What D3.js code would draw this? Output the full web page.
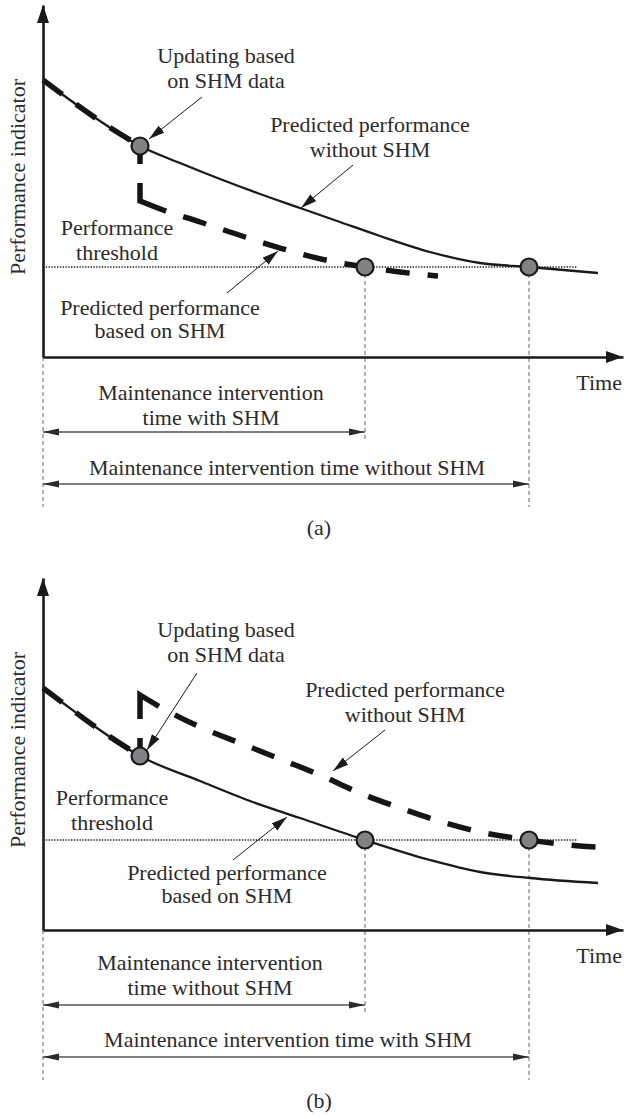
<!DOCTYPE html>
<html>
<head>
<meta charset="utf-8">
<script src="https://cdn.jsdelivr.net/npm/d3@7"></script>
<style>
  html, body { margin: 0; padding: 0; background: #fff; }
  svg { display: block; }
  text { font-family: "Liberation Serif", "Times New Roman", serif; font-size: 22px; fill: #2b2b2b; }
</style>
</head>
<body>
<svg id="chart" width="624" height="1119"></svg>
<script>
// ---- values (time and performance in arbitrary units) ----
const updateTime = 9.7;
const threshold = 9.0;

// (a) updating lowers the prediction
const aBaseT = [0, 2.7, 5.7, 9.7, 13.7, 17.7, 21.7, 25.7, 29.7, 33.7, 38.7, 43.7, 48.6, 55.5];
const aBaseP = [27.7, 25.7, 23.6, 21.1, 19.4, 17.8, 16.3, 14.9, 13.5, 12.1, 10.5, 9.4, 9.0, 8.4];
const aUpdT = [9.7, 9.7, 12.0, 15.7, 20.2, 24.4, 28.7, 32.2, 35.7, 39.5];
const aUpdP = [21.1, 15.6, 14.7, 13.5, 12.0, 10.7, 9.6, 9.0, 8.5, 8.1];
const aInterventions = [32.2, 48.6];

// (b) updating raises the prediction
const bBaseT = [0, 2.0, 5.4, 9.7, 15.7, 20.7, 25.7, 32.2, 38.7, 43.7, 48.7, 55.5];
const bBaseP = [24.2, 22.7, 20.2, 17.4, 14.9, 12.9, 11.2, 9.0, 7.0, 5.8, 5.2, 4.7];
const bUpdT = [9.7, 9.7, 11.9, 15.7, 19.7, 23.7, 27.7, 31.7, 35.7, 39.9, 44.2, 48.6, 52.7, 56.7];
const bUpdP = [17.4, 23.5, 22.2, 20.3, 18.7, 17.1, 15.5, 13.7, 12.2, 10.8, 9.7, 9.0, 8.5, 8.2];
const bInterventions = [32.2, 48.6];

// ---- text ----
const yTitle = "Performance indicator";
const xTitle = "Time";
const updateLabel = ["Updating based", "on SHM data"];
const withoutLabel = ["Predicted performance", "without SHM"];
const basedLabel = ["Predicted performance", "based on SHM"];
const thresholdLabel = ["Performance", "threshold"];
const aShortLabel = ["Maintenance intervention", "time with SHM"];
const aLongLabel = "Maintenance intervention time without SHM";
const bShortLabel = ["Maintenance intervention", "time without SHM"];
const bLongLabel = "Maintenance intervention time with SHM";
const captions = ["(a)", "(b)"];

// ---- layout ----
const x = d3.scaleLinear().domain([0, 58]).range([43, 623]);
const y = d3.scaleLinear().domain([0, 35.2]).range([357, 5]);

const panels = [
  {
    dy: 0, caption: captions[0],
    base: aBaseT.map((t, i) => ({ t, p: aBaseP[i] })),
    upd: aUpdT.map((t, i) => ({ t, p: aUpdP[i] })),
    times: aInterventions,
    shortLabel: aShortLabel, longLabel: aLongLabel,
    pos: {
      update: { t: 18.3, p: [29.4, 26.9], from: [15.9, 26.0], to: [10.6, 21.8] },
      without: { t: 32.7, p: [22.5, 20.0], from: [31.0, 19.2], to: [25.8, 14.9] },
      based: { t: 11.7, p: [4.2, 1.9], from: [18.4, 6.4], to: [23.5, 10.6] },
      thresh: { t: 7.4, p: [12.2, 9.7] },
      short: { t: 16.8, p: [-4.3, -6.8] },
      long: { t: 24.4, p: -11.8 }
    }
  },
  {
    dy: 573, caption: captions[1],
    base: bBaseT.map((t, i) => ({ t, p: bBaseP[i] })),
    upd: bUpdT.map((t, i) => ({ t, p: bUpdP[i] })),
    times: bInterventions,
    shortLabel: bShortLabel, longLabel: bLongLabel,
    pos: {
      update: { t: 18.3, p: [29.3, 26.8], from: [15.4, 25.7], to: [10.4, 18.0] },
      without: { t: 36.2, p: [23.3, 20.8], from: [34.2, 20.0], to: [29.0, 15.9] },
      based: { t: 18.4, p: [5.0, 2.7], from: [19.0, 7.0], to: [24.4, 11.3] },
      thresh: { t: 6.9, p: [12.5, 10.0] },
      short: { t: 16.7, p: [-4.0, -6.5] },
      long: { t: 24.5, p: -11.7 }
    }
  }
];

const svg = d3.select("#chart");
const defs = svg.append("defs");

defs.append("marker")
  .attr("id", "pointer").attr("markerUnits", "userSpaceOnUse")
  .attr("markerWidth", 17).attr("markerHeight", 10)
  .attr("refX", 16).attr("refY", 5).attr("orient", "auto")
  .append("path").attr("d", "M0,0.5 L16,5 L0,9.5 Z").attr("fill", "#1a1a1a");

defs.append("marker")
  .attr("id", "span").attr("markerUnits", "userSpaceOnUse")
  .attr("markerWidth", 17).attr("markerHeight", 8)
  .attr("refX", 16).attr("refY", 4).attr("orient", "auto-start-reverse")
  .append("path").attr("d", "M0,0.5 L16,4 L0,7.5 Z").attr("fill", "#2a2a2a");

const lineMono = d3.line().x(d => x(d.t)).y(d => y(d.p)).curve(d3.curveMonotoneX);

// dash pattern for the updated prediction: starts at the update point
const updDash = [18, 19, 46];
for (let i = 0; i < 20; i++) updDash.push(18, 24);

function multiline(g, lines, t, ps, anchor) {
  lines.forEach((s, i) => {
    g.append("text").attr("x", x(t)).attr("y", y(ps[i]))
      .attr("text-anchor", anchor || "middle").text(s);
  });
}

panels.forEach(P => {
  const g = svg.append("g").attr("transform", `translate(0,${P.dy})`);

  // threshold
  g.append("line")
    .attr("x1", x(0)).attr("x2", x(53.4))
    .attr("y1", y(threshold)).attr("y2", y(threshold))
    .attr("stroke", "#222").attr("stroke-width", 1.3).attr("stroke-dasharray", "1.4,1.4");

  // guide lines to the time axis
  const guides = [
    { t: 0, from: 0, to: -15 },
    { t: P.times[0], from: threshold, to: -8.5 },
    { t: P.times[1], from: threshold, to: -15 }
  ];
  g.selectAll(".guide").data(guides).join("line")
    .attr("x1", d => x(d.t)).attr("x2", d => x(d.t))
    .attr("y1", d => y(d.from)).attr("y2", d => y(d.to))
    .attr("stroke", "#666").attr("stroke-width", 1).attr("stroke-dasharray", "4,3");

  // baseline prediction (thin solid)
  g.append("path").attr("d", lineMono(P.base))
    .attr("fill", "none").attr("stroke", "#1a1a1a").attr("stroke-width", 2.3);

  // history up to the update (thick dashed over the solid)
  g.append("path").attr("d", lineMono(P.base.filter(d => d.t <= updateTime)))
    .attr("fill", "none").attr("stroke", "#151515").attr("stroke-width", 5.5)
    .attr("stroke-dasharray", "24,17");

  // updated prediction: jump at the update then a smooth decay
  const start = P.upd[0];
  const rest = P.upd.slice(1);
  const dUpd = `M${x(start.t)},${y(start.p)}` + lineMono(rest).replace(/^M/, "L");
  g.append("path").attr("d", dUpd)
    .attr("fill", "none").attr("stroke", "#151515").attr("stroke-width", 5.5)
    .attr("stroke-dasharray", updDash.join(","));

  // axes
  const xAxis = g.append("g").attr("transform", `translate(0,${y(0)})`)
    .call(d3.axisBottom(x).tickValues([]).tickSizeOuter(0));
  const yAxis = g.append("g").attr("transform", `translate(${x(0)},0)`)
    .call(d3.axisLeft(y).tickValues([]).tickSizeOuter(0));
  [xAxis, yAxis].forEach(a => a.select(".domain").attr("stroke", "#1a1a1a").attr("stroke-width", 2.6));
  g.append("path")
    .attr("d", `M${x(58)},${y(0)} L${x(58) - 17},${y(0) - 6} L${x(58) - 17},${y(0) + 6} Z`)
    .attr("fill", "#1a1a1a");
  g.append("path")
    .attr("d", `M${x(0)},${y(35.2)} L${x(0) - 6},${y(35.2) + 18} L${x(0) + 6},${y(35.2) + 18} Z`)
    .attr("fill", "#1a1a1a");

  // key points
  const pts = [
    { t: updateTime, p: P.base.find(d => d.t === updateTime).p },
    { t: P.times[0], p: threshold },
    { t: P.times[1], p: threshold }
  ];
  g.selectAll(".pt").data(pts).join("circle")
    .attr("cx", d => x(d.t)).attr("cy", d => y(d.p)).attr("r", 8.5)
    .attr("fill", "#808285").attr("stroke", "#1a1a1a").attr("stroke-width", 2.2);

  // callouts
  const pos = P.pos;
  [pos.update, pos.without, pos.based].forEach(c => {
    g.append("line")
      .attr("x1", x(c.from[0])).attr("y1", y(c.from[1]))
      .attr("x2", x(c.to[0])).attr("y2", y(c.to[1]))
      .attr("stroke", "#1a1a1a").attr("stroke-width", 1)
      .attr("marker-end", "url(#pointer)");
  });
  multiline(g, updateLabel, pos.update.t, pos.update.p);
  multiline(g, withoutLabel, pos.without.t, pos.without.p);
  multiline(g, basedLabel, pos.based.t, pos.based.p);
  multiline(g, thresholdLabel, pos.thresh.t, pos.thresh.p);

  // axis titles
  g.append("text").attr("text-anchor", "middle")
    .attr("transform", `translate(${x(-1.8)},${y(18.0)}) rotate(-90)`).text(yTitle);
  g.append("text").attr("x", x(57.9)).attr("y", y(-3.3)).attr("text-anchor", "end").text(xTitle);

  // intervention spans
  const spans = [{ t: P.times[0], p: -7.5 }, { t: P.times[1], p: -12.7 }];
  g.selectAll(".span").data(spans).join("line")
    .attr("x1", x(0)).attr("x2", d => x(d.t))
    .attr("y1", d => y(d.p)).attr("y2", d => y(d.p))
    .attr("stroke", "#555").attr("stroke-width", 1.4)
    .attr("marker-start", "url(#span)").attr("marker-end", "url(#span)");
  multiline(g, P.shortLabel, pos.short.t, pos.short.p);
  g.append("text").attr("x", x(pos.long.t)).attr("y", y(pos.long.p))
    .attr("text-anchor", "middle").text(P.longLabel);

  g.append("text").attr("x", x(27.6)).attr("y", y(-17.8))
    .attr("text-anchor", "middle").text(P.caption);
});
</script>
</body>
</html>
